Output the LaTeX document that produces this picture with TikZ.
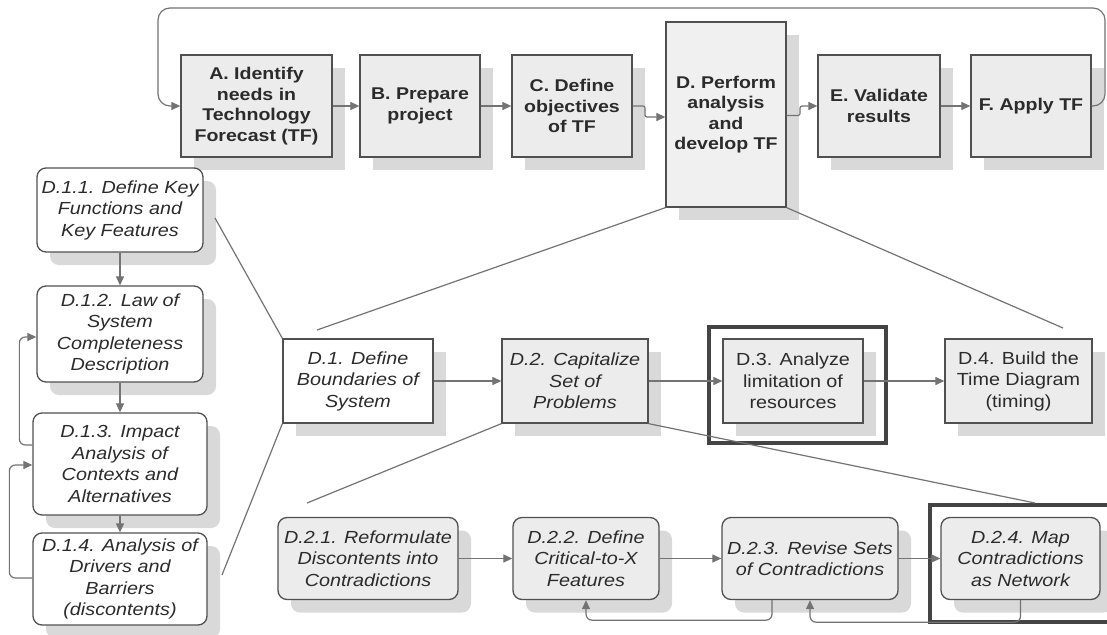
\documentclass[tikz,border=0pt]{standalone}
\usepackage{fontspec}
\setmainfont{Liberation Sans}
\newfontfamily\wideface{Liberation Sans}[FakeStretch=1.13]
\newfontfamily\topface{Liberation Sans}[FakeStretch=1.15]
\usetikzlibrary{shadows,arrows.meta}
\definecolor{boxline}{HTML}{505050}
\definecolor{connline}{HTML}{737373}
\definecolor{shadowgray}{HTML}{D9D9D9}
\definecolor{boxfill}{HTML}{ECECEC}
\definecolor{dfill}{HTML}{F0F0F0}
\definecolor{txt}{HTML}{2B2B2B}
\definecolor{framecol}{HTML}{444444}
\tikzset{
  base/.style={draw=boxline, line width=1.3pt, align=center, inner sep=1pt, text=txt,
    drop shadow={shadow xshift=13pt, shadow yshift=-13pt, fill=shadowgray, opacity=1}},
  topbox/.style={base, fill=boxfill, font=\topface\bfseries\fontsize{17}{20.5}\selectfont},
  italbox/.style={base, fill=white, font=\wideface\itshape\fontsize{17.5}{21.5}\selectfont},
  regbox/.style={base, fill=boxfill, font=\wideface\fontsize{17.5}{21.5}\selectfont},
  rnd/.style={rounded corners=9pt},
  conn/.style={draw=connline, line width=1.2pt, -{Triangle[length=9pt,width=8pt]}},
  plainline/.style={draw=connline, line width=1.2pt},
  framebox/.style={draw=framecol, line width=3.5pt},
}
\begin{document}
\begin{tikzpicture}[x=1pt,y=-1pt]
\useasboundingbox[fill=white] (0,0) rectangle (1107,634);

% top row
\node[topbox, minimum width=151pt, minimum height=102pt] (A) at (256.5,106) {A. Identify\\needs in\\Technology\\Forecast (TF)};
\node[topbox, minimum width=120pt, minimum height=102pt] (B) at (420,106) {B. Prepare\\project};
\node[topbox, minimum width=120pt, minimum height=102pt] (C) at (572,106) {C. Define\\objectives\\of TF};
\node[topbox, fill=dfill, minimum width=120pt, minimum height=185pt] (D) at (726,114.5) {D. Perform\\analysis\\and\\develop TF};
\node[topbox, minimum width=122pt, minimum height=102pt] (E) at (879,106) {E. Validate\\results};
\node[topbox, minimum width=120pt, minimum height=102pt] (F) at (1031,106) {F. Apply TF};

\coordinate (loopR) at (1105,8);
\coordinate (loopL) at (158,8);
\draw[conn] (A) -- (B);
\draw[conn] (B) -- (C);
\coordinate (cdjog) at (645,117);
\draw[conn, rounded corners=2pt] (C.east) -- (cdjog |- C.east) -- (cdjog) -- (cdjog -| D.west);
\coordinate (dejog) at (800,106);
\draw[conn, rounded corners=2pt] ([yshift=-1pt]D.east) -- ([yshift=-1pt]D.east -| dejog) -- (dejog) -- (E.west);
\draw[conn] (E) -- (F);
\draw[conn, rounded corners=12pt] (F.east) -| (loopR) -- (loopL) |- (A.west);

% D.1.x column
\node[italbox, rnd, minimum width=166pt, minimum height=84pt] (D11) at (120,210) {D.1.1. Define Key\\Functions and\\Key Features};
\node[italbox, rnd, minimum width=166pt, minimum height=96pt] (D12) at (120,334) {D.1.2. Law of\\System\\Completeness\\Description};
\node[italbox, rnd, minimum width=174pt, minimum height=102pt] (D13) at (120,464) {D.1.3. Impact\\Analysis of\\Contexts and\\Alternatives};
\node[italbox, rnd, minimum width=174pt, minimum height=92pt] (D14) at (120,579) {D.1.4. Analysis of\\Drivers and\\Barriers\\(discontents)};
\draw[conn] (D11) -- (D12);
\draw[conn] (D12) -- (D13);
\draw[conn] (D13) -- (D14);
\draw[conn, rounded corners=6pt] ([yshift=19pt]D13.west) -- ++(-13,0) |- ([yshift=-3pt]D12.west);
\draw[conn, rounded corners=6pt] ([yshift=1pt]D14.west) -- ++(-23,0) |- ([yshift=-1pt]D13.west);

% D.x row
\node[italbox, minimum width=150pt, minimum height=84pt] (D1) at (358,381) {D.1. Define\\Boundaries of\\System};
\node[italbox, fill=boxfill, minimum width=146pt, minimum height=84pt] (D2) at (575,381) {D.2. Capitalize\\Set of\\Problems};
\node[regbox, minimum width=140pt, minimum height=84pt] (D3) at (793,381) {D.3. Analyze\\limitation of\\resources};
\node[regbox, minimum width=147pt, minimum height=84pt] (D4) at (1018.5,381) {D.4. Build the\\Time Diagram\\(timing)};
\draw[framebox] (709,327) rectangle (886,443);
\draw[conn] (D1) -- (D2);
\draw[conn] (D2) -- (D3);
\draw[conn] (D3) -- (D4);

% zoom lines
\coordinate (dA) at (317,330);
\coordinate (dB) at (1063,328);
\draw[plainline] (D.south west) -- (dA);
\draw[plainline] (D.south east) -- (dB);
\coordinate (d11end) at (215,218);
\coordinate (d14end) at (222,575);
\draw[plainline] (D1.north west) -- (d11end);
\draw[plainline] (D1.south west) -- (d14end);

% D.2.x row
\node[italbox, rnd, fill=boxfill, minimum width=180pt, minimum height=82pt] (D21) at (368,558.5) {D.2.1. Reformulate\\Discontents into\\Contradictions};
\node[italbox, rnd, fill=boxfill, minimum width=146pt, minimum height=82pt] (D22) at (586,558.5) {D.2.2. Define\\Critical-to-X\\Features};
\node[italbox, rnd, fill=boxfill, minimum width=176pt, minimum height=82pt] (D23) at (810,558.5) {D.2.3. Revise Sets\\of Contradictions};
\node[italbox, rnd, fill=boxfill, minimum width=159pt, minimum height=82pt] (D24) at (1020.5,558.5) {D.2.4. Map\\Contradictions\\as Network};
\draw[framebox] (930,505) rectangle (1120,622);
\draw[conn] (D21) -- (D22);
\draw[conn] (D22) -- (D23);
\draw[conn] (D23) -- (D24);
\draw[conn, rounded corners=6pt] ([xshift=-38pt]D23.south) -- ++(0,20) -| (D22.south);
\draw[conn, rounded corners=6pt] (D24.south) -- ++(0,22) -| (D23.south);

\coordinate (d2A) at (307,503);
\coordinate (d2B) at (1035,503);
\draw[plainline] (D2.south west) -- (d2A);
\draw[plainline] (D2.south east) -- (d2B);
\end{tikzpicture}
\end{document}
